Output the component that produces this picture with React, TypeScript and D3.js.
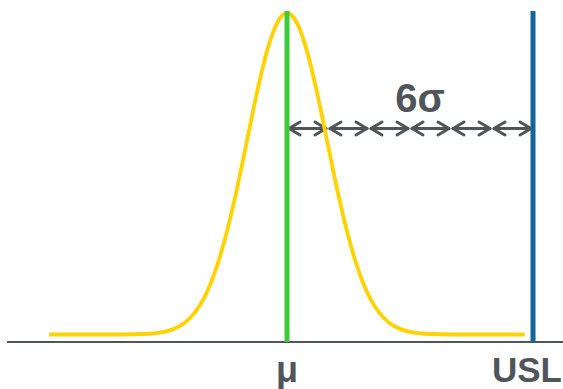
import * as d3 from "d3";

// curve samples, x in sigma units from the mean, y as share of the peak
const curveX = [-5.8, -4, -3.5, -3.25, -3, -2.75, -2.5, -2.25, -2, -1.75, -1.5, -1.25, -1, -0.75, -0.5, -0.25, 0,
  0.25, 0.5, 0.75, 1, 1.25, 1.5, 1.75, 2, 2.25, 2.5, 2.75, 3, 3.25, 3.5, 4, 5.8];
const curveY = [0, 0, 0.0015, 0.0037, 0.0084, 0.018, 0.036, 0.068, 0.119, 0.197, 0.303, 0.436, 0.588, 0.742, 0.876, 0.967, 1,
  0.967, 0.876, 0.742, 0.588, 0.436, 0.303, 0.197, 0.119, 0.068, 0.036, 0.018, 0.0084, 0.0037, 0.0015, 0, 0];

const meanAt = 0;
const uslAt = 6;
const arrowSteps = [0, 1, 2, 3, 4, 5];
const labels = { mean: "μ", usl: "USL", span: "6σ" };

const W = 563;
const H = 389;

const App = () => {
  const x = d3.scaleLinear().domain([0, 6]).range([287, 533]);
  const y = d3.scaleLinear().domain([0, 1]).range([334.5, 13]);
  const baseY = 342;
  const arrowY = 128.5;
  const gray = "#50555c";

  const line = d3.line<number>()
    .x((_, i) => x(curveX[i]))
    .y(d => y(d))
    .curve(d3.curveMonotoneX);

  const head = 11;
  const half = 6.5;

  return (
    <svg width={W} height={H} style={{ position: "absolute", left: 0, top: 0 }}>
      <rect width={W} height={H} fill="#fff" />
      <line x1={7} x2={W} y1={baseY} y2={baseY} stroke={gray} strokeWidth={2.2} />

      {arrowSteps.map(s => {
        const a = x(s) + 2;
        const b = x(s + 1) - 2;
        return (
          <g key={s} stroke={gray} strokeWidth={3} fill="none" strokeLinecap="round" strokeLinejoin="round">
            <line x1={a} x2={b} y1={arrowY} y2={arrowY} />
            <path d={`M${a + head},${arrowY - half}L${a},${arrowY}L${a + head},${arrowY + half}`} />
            <path d={`M${b - head},${arrowY - half}L${b},${arrowY}L${b - head},${arrowY + half}`} />
          </g>
        );
      })}

      <path d={line(curveY) ?? ""} fill="none" stroke="#ffd200" strokeWidth={3.8} />

      <line x1={x(meanAt)} x2={x(meanAt)} y1={11} y2={baseY} stroke="#3ecb3a" strokeWidth={5} />
      <line x1={x(uslAt)} x2={x(uslAt)} y1={11} y2={baseY} stroke="#0f679b" strokeWidth={5} />

      <g fontFamily="Liberation Sans, Arial, sans-serif" fontWeight="bold" fill={gray}>
        <text x={420} y={112} fontSize={40} textAnchor="middle">{labels.span}</text>
        <text x={x(meanAt)} y={382} fontSize={36} textAnchor="middle">{labels.mean}</text>
        <text x={W - 1} y={382} fontSize={35} textAnchor="end">{labels.usl}</text>
      </g>
    </svg>
  );
};

export default App;
